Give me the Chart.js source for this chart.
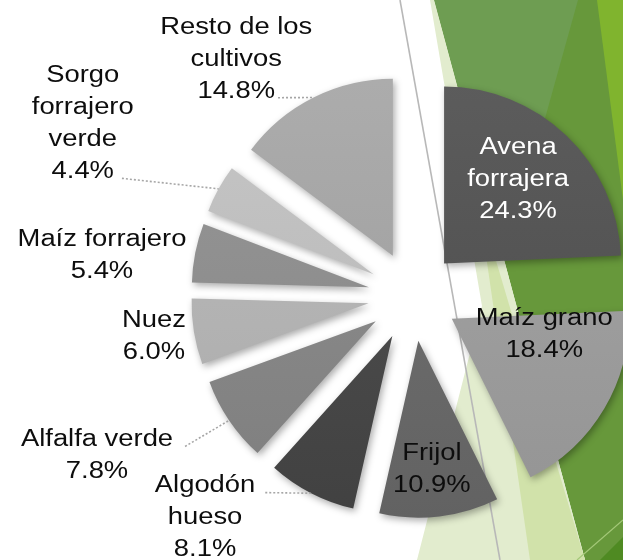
<!DOCTYPE html>
<html><head><meta charset="utf-8">
<script src="https://cdn.jsdelivr.net/npm/chart.js@4.4.1/dist/chart.umd.min.js"></script>
<style>
html,body{margin:0;padding:0;background:#fff;}
#wrap{position:relative;width:623px;height:560px;overflow:hidden;}
#bg,#c{position:absolute;left:0;top:0;}
</style></head><body>
<div id="wrap">
<svg id="bg" width="623" height="560" viewBox="0 0 623 560">
 <polygon points="434,0 623,0 623,560 585,560" fill="#67983b"/>
 <polygon points="434,0 578,0 505,262" fill="#6e9d52"/>
 <polygon points="597,0 623,0 623,200" fill="#80b42e"/>
 <polygon points="430,0 434,0 585,560 417,560 482,306" fill="#e2ecce"/>
 <polygon points="478,200 585,560 530,560" fill="#d1e2aa"/>
 <polygon points="600,560 623,560 623,537" fill="#4f8a22"/>
 <line x1="577" y1="560" x2="623" y2="520" stroke="#a4c878" stroke-width="1.2"/>
 <line x1="400" y1="0" x2="500" y2="560" stroke="#b8b8b8" stroke-width="1.6"/>
</svg>
<canvas id="c" width="623" height="560"></canvas>
</div>
<script>
// ---- data ----
const categories = ['Avena forrajera','Maíz grano','Frijol','Algodón hueso','Alfalfa verde','Nuez','Maíz forrajero','Sorgo forrajero verde','Resto de los cultivos'];
const shares = [24.3, 18.4, 10.9, 8.1, 7.8, 6.0, 5.4, 4.4, 14.8];

// ---- styles ----
const labelLines = [['Avena','forrajera'],['Maíz grano'],['Frijol'],['Algodón','hueso'],['Alfalfa verde'],['Nuez'],['Maíz forrajero'],['Sorgo','forrajero','verde'],['Resto de los','cultivos']];
const sliceGray = [83, 157, 107, 74, 135, 179, 142, 189, 163];
const labelColors = ['#ffffff','#0d0d0d','#0d0d0d','#0d0d0d','#0d0d0d','#0d0d0d','#0d0d0d','#0d0d0d','#0d0d0d'];
// label placement around each exploded slice: [clock angle in degrees, distance as fraction of radius]
const labelPlace = [[41.6,0.63],[99.9,0.53],[174,0.73],[225.8,1.476],[244.2,1.749],[261.2,1.227],[276.7,1.518],[297.35,1.85],[321.45,1.42]];
// leader lines: [label line index, gap after text] or null
const leaders = [null,null,null,[0,10],[0,12],null,null,[3,8],[2,3]];
const EXPLODE = 45, RADIUS = 177, FONT_PX = 23, STRETCH = 1.19, LINE_H = 32;

function g(v) { v = Math.max(0, Math.min(255, Math.round(v))); return 'rgb(' + v + ',' + v + ',' + v + ')'; }
function sliceFill(context) {
  const base = sliceGray[context.dataIndex];
  const ctx = context.chart.ctx;
  const grad = ctx.createLinearGradient(0, 80, 0, 520);
  grad.addColorStop(0, g(base + 9));
  grad.addColorStop(1, g(base - 9));
  return grad;
}

const explodePlugin = {
  id: 'explodeLabels',
  beforeDatasetsDraw(chart) {
    const meta = chart.getDatasetMeta(0);
    meta.data.forEach(arc => {
      const mid = (arc.startAngle + arc.endAngle) / 2;
      arc._ox = arc.x; arc._oy = arc.y;
      arc.x = arc._ox + Math.cos(mid) * EXPLODE;
      arc.y = arc._oy + Math.sin(mid) * EXPLODE;
    });
    const ctx = chart.ctx;
    ctx.save();
    ctx.shadowColor = 'rgba(0,0,0,0.33)';
    ctx.shadowBlur = 7; ctx.shadowOffsetX = 2; ctx.shadowOffsetY = 3;
  },
  afterDatasetsDraw(chart) {
    const ctx = chart.ctx;
    ctx.restore();
    const meta = chart.getDatasetMeta(0);
    ctx.save();
    ctx.font = FONT_PX + 'px "Liberation Sans", Arial, sans-serif';
    ctx.textAlign = 'center';
    ctx.textBaseline = 'middle';
    meta.data.forEach((arc, i) => {
      const R = arc.outerRadius;
      const [deg, f] = labelPlace[i];
      const th = (deg - 90) * Math.PI / 180;
      const cx = arc.x + Math.cos(th) * f * R;
      const cy = arc.y + Math.sin(th) * f * R;
      const lines = labelLines[i].concat([shares[i].toFixed(1) + '%']);
      const n = lines.length;
      ctx.fillStyle = labelColors[i];
      lines.forEach((t, j) => {
        const y = cy + (j - (n - 1) / 2) * LINE_H;
        ctx.save(); ctx.translate(cx, y); ctx.scale(STRETCH, 1); ctx.fillText(t, 0, 0); ctx.restore();
      });
      const ld = leaders[i];
      if (ld) {
        const t = lines[ld[0]];
        const w = ctx.measureText(t).width * STRETCH;
        const sx = cx + w / 2 + ld[1];
        const sy = cy + (ld[0] - (n - 1) / 2) * LINE_H + 6.5;
        const mid = (arc.startAngle + arc.endAngle) / 2;
        const ex = arc.x + Math.cos(mid) * R, ey = arc.y + Math.sin(mid) * R;
        ctx.save();
        ctx.strokeStyle = '#a6a6a6'; ctx.lineWidth = 1.6; ctx.setLineDash([2, 2]);
        ctx.beginPath(); ctx.moveTo(sx, sy); ctx.lineTo(ex, ey); ctx.stroke();
        ctx.restore();
      }
    });
    ctx.restore();
    meta.data.forEach(arc => { arc.x = arc._ox; arc.y = arc._oy; });
  }
};

new Chart(document.getElementById('c'), {
  type: 'pie',
  data: {
    labels: categories,
    datasets: [{
      data: shares,
      backgroundColor: sliceFill,
      borderWidth: 0,
      radius: RADIUS,
      clip: false
    }]
  },
  options: {
    responsive: false,
    animation: false,
    devicePixelRatio: 1,
    events: [],
    layout: { padding: { left: 203, right: 0, top: 32, bottom: 0 } },
    plugins: { legend: { display: false }, tooltip: { enabled: false } }
  },
  plugins: [explodePlugin]
});
</script>
</body></html>
